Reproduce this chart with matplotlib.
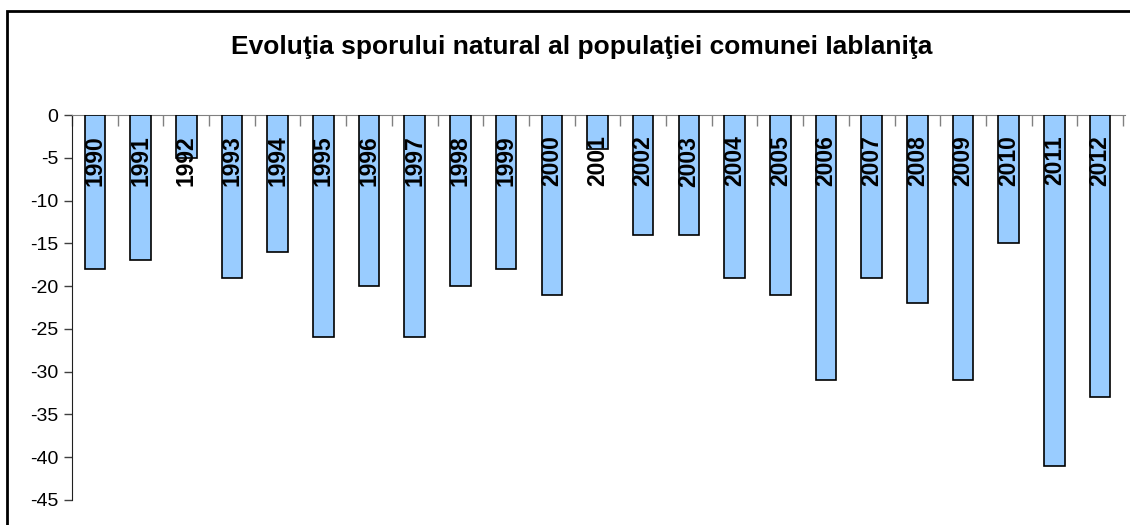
import numpy as np
import matplotlib.pyplot as plt
from matplotlib.patches import Rectangle

plt.rcParams['font.family'] = ['Liberation Sans', 'DejaVu Sans']

# Natural increase per year
years = ['1990', '1991', '1992', '1993', '1994', '1995', '1996', '1997',
         '1998', '1999', '2000', '2001', '2002', '2003', '2004', '2005',
         '2006', '2007', '2008', '2009', '2010', '2011', '2012']
spor = [-18, -17, -5, -19, -16, -26, -20, -26, -20, -18, -21, -4,
        -14, -14, -19, -21, -31, -19, -22, -31, -15, -41, -33]
yticks = [0, -5, -10, -15, -20, -25, -30, -35, -40, -45]
title = 'Evoluţia sporului natural al populaţiei comunei Iablaniţa'

W, H = 1130, 525
fig = plt.figure(figsize=(W / 100, H / 100), dpi=100)
ax = fig.add_axes([72 / W, 1 - 500 / H, (1123 - 72) / W, 385 / H])

x = np.arange(len(years))
ax.bar(x, spor, width=0.45, color='#99CCFF', edgecolor='black',
       linewidth=1.2, zorder=3)

# year labels drawn inside the bars, rotated
for xi, yr in zip(x, years):
    ax.text(xi, -2.4, yr, rotation=90, ha='center', va='top',
            fontsize=16.5, fontweight='bold', zorder=4)

ax.set_xlim(-0.5, len(years) - 0.5)
ax.set_ylim(-45, 0)
ax.set_yticks(yticks)
ax.set_yticklabels([str(v) for v in yticks], fontsize=14)

# category boundary ticks on the zero line
ax.xaxis.tick_top()
ax.set_xticks(np.arange(-0.5, len(years), 1.0))
ax.set_xticklabels([])
ax.tick_params(axis='x', direction='in', length=8, color='#808080', width=1)
ax.tick_params(axis='y', direction='out', length=6, color='#404040',
               width=1, pad=4)

for side in ['right', 'bottom']:
    ax.spines[side].set_visible(False)
ax.spines['top'].set_color('#808080')
ax.spines['top'].set_bounds(-0.5, len(years) - 0.45)
ax.spines['left'].set_color('#202020')

fig.text(582 / W, 1 - 47 / H, title, ha='center', va='center',
         fontsize=19, fontweight='bold')

# outer chart border (cropped at right and bottom)
fig.patches.append(Rectangle((7 / W, -0.1), 1.2, 1.1 - 11 / H,
                             transform=fig.transFigure, fill=False,
                             edgecolor='black', linewidth=2))

fig.savefig('out.png', dpi=100)
